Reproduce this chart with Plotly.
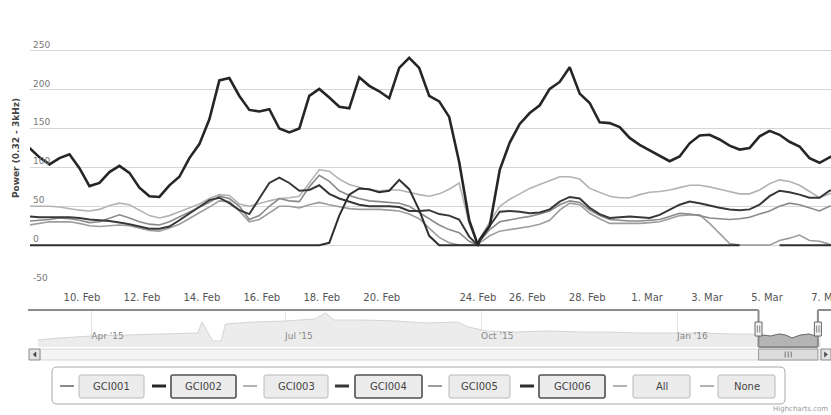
import plotly.graph_objects as go
import pandas as pd

# ---------------- data ----------------
series_names = ["GCI001", "GCI002", "GCI003", "GCI004", "GCI005", "GCI006"]

# 8-hourly samples; the source has a gap on 23 Feb (ordinal axis) and a reset point on 24 Feb
times_before = pd.date_range("2016-02-08 06:00", periods=45, freq="8h")
times_reset = pd.DatetimeIndex(["2016-02-24 00:00"])
times_after = pd.date_range("2016-02-24 10:00", periods=37, freq="8h")
times = times_before.append(times_reset).append(times_after)

gci001 = [31, 32, 33, 35, 34, 32, 29, 30, 35, 39,
          35, 30, 27, 26, 30, 36, 42, 48, 55, 63,
          60, 50, 33, 38, 50, 60, 57, 56, 75, 90,
          82, 70, 64, 60, 57, 56, 55, 54, 50, 42,
          33, 26, 20, 16, 5,
          0,
          5, 20, 30, 33, 35, 37, 40, 44, 52, 57,
          55, 45, 38, 33, 32, 31, 31, 32, 33, 37,
          41, 40, 38, 35, 34, 33, 34, 36, 40, 44,
          50, 54, 52, 48, 44, 50, 52]

gci002 = [125, 113, 104, 112, 117, 99, 76, 80, 94, 102,
          93, 74, 63, 62, 77, 88, 112, 130, 162, 212,
          215, 192, 174, 172, 175, 150, 145, 150, 192, 201,
          190, 178, 176, 216, 205, 198, 189, 228, 241, 228,
          192, 185, 165, 107, 32,
          0,
          7, 25, 97, 132, 156, 170, 180, 201, 210, 229,
          195, 183, 158, 157, 152, 138, 129, 122, 114, 108,
          114, 131, 141, 142, 136, 128, 123, 125, 140, 147,
          142, 133, 127, 112, 106, 113, 118]

gci003 = [50, 50, 50, 49, 47, 45, 44, 46, 51, 54,
          52, 45, 38, 35, 38, 43, 48, 53, 60, 65,
          64, 53, 50, 54, 57, 60, 61, 63, 80, 97,
          95, 85, 78, 74, 71, 70, 71, 71, 68, 65,
          63, 66, 72, 80, 28,
          0,
          8, 30, 50, 59, 66, 73, 78, 83, 88, 88,
          85, 73, 68, 63, 61, 61, 65, 68, 69, 71,
          74, 77, 77, 75, 72, 69, 66, 66, 71, 79,
          84, 82, 77, 69, 61, 66, 70]

gci004 = [37, 36, 36, 36, 36, 35, 33, 32, 31, 29,
          27, 24, 21, 21, 24, 32, 41, 50, 58, 61,
          54, 45, 40, 60, 80, 87, 80, 70, 71, 77,
          66, 60, 56, 52, 50, 50, 50, 49, 44, 44,
          45, 40, 38, 33, 11,
          0,
          6, 25, 43, 44, 43, 41, 42, 46, 56, 62,
          60, 48, 40, 35, 36, 37, 36, 35, 39, 46,
          52, 56, 54, 51, 48, 46, 45, 46, 52, 63,
          70, 68, 65, 61, 61, 70, 72]

gci005 = [26, 28, 30, 30, 30, 28, 25, 24, 25, 26,
          25, 22, 19, 18, 22, 27, 34, 42, 49, 57,
          56, 44, 30, 33, 42, 50, 50, 48, 52, 55,
          52, 49, 47, 46, 46, 46, 45, 44, 40, 34,
          22, 10, 3, 0, 0,
          0,
          3, 12, 18, 20, 22, 24, 27, 32, 45, 54,
          52, 41, 34, 28, 28, 28, 28, 29, 30, 34,
          38, 39, 39, 28, 15, 2, 0, 0, 0, 0,
          6, 9, 13, 6, 5, 1, 0]

gci006 = [0, 0, 0, 0, 0, 0, 0, 0, 0, 0,
          0, 0, 0, 0, 0, 0, 0, 0, 0, 0,
          0, 0, 0, 0, 0, 0, 0, 0, 0, 0,
          3, 38, 65, 73, 72, 68, 70, 84, 72, 45,
          12, 0, 0, 0, 0,
          0,
          0, 0, 0, 0, 0, 0, 0, 0, 0, 0,
          0, 0, 0, 0, 0, 0, 0, 0, 0, 0,
          0, 0, 0, 0, 0, 0, 0, None, None, None,
          0, 0, 0, 0, 0, 0, 0]

nav_dates = ["2015-03-07", "2015-03-17", "2015-04-01", "2015-04-15", "2015-04-29",
             "2015-05-14", "2015-05-21", "2015-05-23", "2015-05-26", "2015-05-28",
             "2015-06-01", "2015-06-03", "2015-06-16", "2015-07-01", "2015-07-15",
             "2015-07-20", "2015-07-24", "2015-08-07", "2015-08-22", "2015-09-05",
             "2015-09-20", "2015-09-25", "2015-10-04", "2015-10-18", "2015-11-02",
             "2015-11-16", "2015-11-30", "2015-12-14", "2015-12-29", "2016-01-12",
             "2016-01-27", "2016-02-05", "2016-02-10", "2016-02-14", "2016-02-18",
             "2016-02-21", "2016-02-24", "2016-02-28", "2016-03-03", "2016-03-06",
             "2016-03-09"]
nav_values = [28, 36, 44, 48, 50, 54, 56, 100, 56, 24,
              24, 92, 100, 104, 112, 136, 108, 108, 104, 96,
              100, 80, 64, 60, 64, 60, 60, 56, 56, 56,
              52, 52, 48, 44, 52, 48, 36, 48, 52, 44,
              48]

x_ticks = ["2016-02-10", "2016-02-12", "2016-02-14", "2016-02-16", "2016-02-18",
           "2016-02-20", "2016-02-24", "2016-02-26", "2016-02-28", "2016-03-01",
           "2016-03-03", "2016-03-05", "2016-03-07"]
y_ticks = [-50, 0, 50, 100, 150, 200, 250, 300]
y_tick_labels = ["-50", "0", "50", "100", "150", "200", "250", ""]
nav_ticks = ["2015-04-01", "2015-07-01", "2015-10-01", "2016-01-01"]
legend_labels = ["GCI001", "GCI002", "GCI003", "GCI004", "GCI005", "GCI006", "All", "None"]

view_start, view_end = "2016-02-08 06:24", "2016-03-07 03:12"
nav_start, nav_end = "2015-03-03 05:45", "2016-03-08 14:24"

# ---------------- styling ----------------
W, H = 831, 415
L_PX, R_PX = 30, 831
NAV_R_PX = 821


def px(x):
    return (x - L_PX) / (R_PX - L_PX)


def py(y):
    return (H - y) / H


def nav_px(t):
    t0, t1 = pd.Timestamp(nav_start), pd.Timestamp(nav_end)
    return L_PX + (pd.Timestamp(t) - t0) / (t1 - t0) * (NAV_R_PX - L_PX)


styles = {
    "GCI001": ("#8a8a8a", 1.6),
    "GCI002": ("#262626", 2.6),
    "GCI003": ("#b3b3b3", 1.6),
    "GCI004": ("#383838", 2.0),
    "GCI005": ("#9d9d9d", 1.6),
    "GCI006": ("#2e2e2e", 2.0),
}
data = dict(zip(series_names, [gci001, gci002, gci003, gci004, gci005, gci006]))

fig = go.Figure()
for name in ["GCI003", "GCI005", "GCI001", "GCI004", "GCI006", "GCI002"]:
    color, width = styles[name]
    fig.add_trace(go.Scatter(x=times, y=data[name], mode="lines", name=name,
                             line=dict(color=color, width=width),
                             connectgaps=False, showlegend=False,
                             xaxis="x", yaxis="y"))

# navigator: whole period (faded) and the selected window (full colour)
fig.add_trace(go.Scatter(x=nav_dates, y=nav_values, mode="lines", fill="tozeroy",
                         fillcolor="#ececec", line=dict(color="#d4d4d4", width=1),
                         showlegend=False, xaxis="x2", yaxis="y2"))
fig.add_trace(go.Scatter(x=nav_dates, y=nav_values, mode="lines", fill="tozeroy",
                         fillcolor="#b4b4b4", line=dict(color="#6a6a6a", width=1),
                         showlegend=False, xaxis="x3", yaxis="y2"))

s0, s1 = nav_px(view_start), nav_px(view_end)

shapes = []
annotations = []

outline = "#8c8c8c"
for (xa, ya, xb, yb) in [(28, 310, s0, 310), (s0, 310, s0, 347), (s0, 347, s1, 347),
                         (s1, 347, s1, 310), (s1, 310, 831, 310)]:
    shapes.append(dict(type="line", xref="paper", yref="paper", x0=px(xa), x1=px(xb),
                       y0=py(ya), y1=py(yb), line=dict(color=outline, width=2), layer="above"))

# scrollbar
shapes.append(dict(type="rect", xref="paper", yref="paper", x0=px(40), x1=px(821),
                   y0=py(360), y1=py(349), fillcolor="#f4f4f4",
                   line=dict(color="#d8d8d8", width=1), layer="above"))
shapes.append(dict(type="rect", xref="paper", yref="paper", x0=px(s0), x1=px(s1),
                   y0=py(360), y1=py(349), fillcolor="#dcdcdc",
                   line=dict(color="#9a9a9a", width=1), layer="above"))
for dx in (-3, 0, 3):
    c = (s0 + s1) / 2 + dx
    shapes.append(dict(type="line", xref="paper", yref="paper", x0=px(c), x1=px(c),
                       y0=py(357.5), y1=py(351.5), line=dict(color="#777", width=1), layer="above"))
for (xa, xb, pointing) in [(29, 40, "left"), (821, 831, "right")]:
    shapes.append(dict(type="rect", xref="paper", yref="paper", x0=px(xa), x1=px(xb),
                       y0=py(360), y1=py(349), fillcolor="#e4e4e4",
                       line=dict(color="#8a8a8a", width=1), layer="above"))
    cx, cy = (xa + xb) / 2, 354.5
    if pointing == "left":
        pts = [(cx + 1.5, cy - 2.5), (cx - 1.5, cy), (cx + 1.5, cy + 2.5)]
    else:
        pts = [(cx - 1.5, cy - 2.5), (cx + 1.5, cy), (cx - 1.5, cy + 2.5)]
    path = "M {} {} L {} {} L {} {} Z".format(*[v for p in pts for v in (px(p[0]), py(p[1]))])
    shapes.append(dict(type="path", xref="paper", yref="paper", path=path,
                       fillcolor="#444", line=dict(color="#444", width=0.5), layer="above"))

# navigator handles
for s in (s0, s1):
    shapes.append(dict(type="rect", xref="paper", yref="paper", x0=px(s - 3.5), x1=px(s + 3.5),
                       y0=py(336), y1=py(322), fillcolor="#f2f2f2",
                       line=dict(color="#666", width=1), layer="above"))
    for dx in (-1.2, 1.2):
        shapes.append(dict(type="line", xref="paper", yref="paper", x0=px(s + dx), x1=px(s + dx),
                           y0=py(332.5), y1=py(325.5), line=dict(color="#666", width=0.8), layer="above"))


# legend box with buttons
def rounded(x0, y0, x1, y1, r):
    X = lambda v: px(v)
    Y = lambda v: py(v)
    return ("M {a} {b} L {c} {b} Q {d} {b} {d} {e} L {d} {f} Q {d} {g} {c} {g} "
            "L {a} {g} Q {h} {g} {h} {f} L {h} {e} Q {h} {b} {a} {b} Z").format(
        a=X(x0 + r), b=Y(y0), c=X(x1 - r), d=X(x1), e=Y(y0 + r), f=Y(y1 - r), g=Y(y1), h=X(x0))


shapes.append(dict(type="path", xref="paper", yref="paper", path=rounded(52, 367, 785, 404, 5),
                   fillcolor="white", line=dict(color="#a8a8a8", width=1), layer="above"))

line_x0 = [60, 152, 243, 335, 428, 520, 613, 700]
box_x0 = [79, 171, 264, 355, 449, 539, 633, 718]
box_x1 = [144, 236, 328, 422, 510, 605, 690, 775]
for i, label in enumerate(legend_labels):
    if label in styles:
        lc, _ = styles[label]
        dark = label in ("GCI002", "GCI004", "GCI006")
        lw = 3 if dark else 2
    else:
        lc, lw, dark = "#9a9a9a", 1.5, False
    shapes.append(dict(type="line", xref="paper", yref="paper", x0=px(line_x0[i]),
                       x1=px(line_x0[i] + 14), y0=py(386), y1=py(386),
                       line=dict(color=lc, width=lw), layer="above"))
    shapes.append(dict(type="path", xref="paper", yref="paper",
                       path=rounded(box_x0[i], 375, box_x1[i], 398, 2),
                       fillcolor="#ececec",
                       line=dict(color="#505050" if dark else "#b8b8b8", width=1.6 if dark else 1),
                       layer="above"))
    annotations.append(dict(text=label, xref="paper", yref="paper",
                            x=px((box_x0[i] + box_x1[i]) / 2), y=py(386.5),
                            xanchor="center", yanchor="middle", showarrow=False,
                            font=dict(family="DejaVu Sans", size=10, color="#444")))

annotations.append(dict(text="Highcharts.com", xref="paper", yref="paper", x=px(830), y=py(409),
                        xanchor="right", yanchor="middle", showarrow=False,
                        font=dict(family="DejaVu Sans", size=7, color="#999")))

fig.update_layout(
    width=W, height=H,
    margin=dict(l=L_PX, r=0, t=0, b=0, autoexpand=False),
    paper_bgcolor="white", plot_bgcolor="rgba(0,0,0,0)",
    font=dict(family="DejaVu Sans", size=10, color="#555"),
    xaxis=dict(domain=[0, 1], anchor="y", type="date",
               range=[view_start, view_end],
               rangebreaks=[dict(bounds=["2016-02-23 04:00", "2016-02-23 23:00"]),
                            dict(bounds=["2016-02-24 01:00", "2016-02-24 09:30"])],
               tickvals=x_ticks, tickformat="%-d. %b", showgrid=False, showline=False,
               zeroline=False, ticks="", tickfont=dict(size=10, color="#555"),
               ticklabelstandoff=6, ticklabeloverflow="allow", fixedrange=True),
    yaxis=dict(domain=[py(284), py(12)], anchor="x", range=[-50, 300],
               tickvals=y_ticks, ticktext=y_tick_labels, ticklabelposition="inside top",
               showgrid=True, gridcolor="#d6d6d6", gridwidth=1, zeroline=False,
               showline=False, ticks="", tickfont=dict(size=9, color="#777"),
               title=dict(text="<b>Power (0.32 - 3kHz)</b>",
                          font=dict(size=9, color="#444", family="DejaVu Sans"),
                          standoff=11)),
    xaxis2=dict(domain=[0, px(NAV_R_PX)], anchor="y2", type="date",
                range=[nav_start, nav_end], tickvals=nav_ticks, tickformat="%b '%y",
                ticklabelposition="inside right", showgrid=True, gridcolor="#e6e6e6",
                tickfont=dict(size=9, color="#888"), showline=False, zeroline=False,
                ticks=""),
    xaxis3=dict(domain=[px(s0), px(s1)], anchor="y2", type="date",
                range=[view_start, view_end], visible=False, showgrid=False),
    yaxis2=dict(domain=[py(347), py(310)], anchor="x2", range=[0, 148],
                visible=False, showgrid=False),
    shapes=shapes, annotations=annotations,
    hovermode=False,
)

fig.write_html("out.html", config={"displayModeBar": False},
               post_script="document.body.style.margin='0px';document.body.style.overflow='hidden';")
